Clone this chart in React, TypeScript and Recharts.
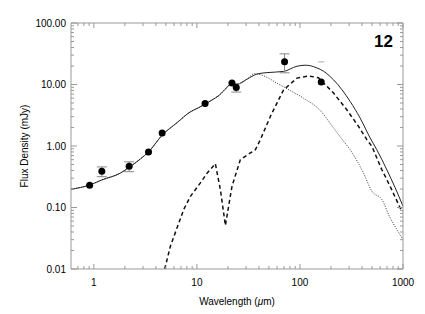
import React from 'react';
import { ComposedChart, Line, Scatter, XAxis, YAxis, ErrorBar } from 'recharts';

// total model (solid)
const totalWave = [0.6, 0.91, 1.19, 1.82, 2.2, 2.84, 3.39, 4.6, 6.43, 8.65, 10.4, 12, 14, 16.3, 19.6, 21.9, 24.5, 30.6, 38.3, 47.9, 69.3, 93.5, 112, 126, 146, 157, 212, 307, 384, 480, 557, 697, 839, 1000];
const totalFlux = [0.198, 0.232, 0.28, 0.365, 0.45, 0.62, 0.8, 1.5, 2.4, 3.6, 4.2, 4.8, 5.6, 6.6, 9.0, 10.5, 10.1, 12.2, 14.8, 15.6, 16.3, 19.8, 20.6, 20.2, 18.6, 17.7, 11.9, 5.3, 2.84, 1.35, 0.87, 0.41, 0.21, 0.105];

// stellar/first component (dotted), same as total below ~30um
const dotWave = [0.6, 0.91, 1.19, 1.82, 2.2, 2.84, 3.39, 4.6, 6.43, 8.65, 10.4, 12, 14, 16.3, 19.6, 21.9, 24.5, 30.6, 36, 46.1, 59.8, 80.5, 108, 157, 212, 255, 307, 413, 499, 623, 750, 871, 1000];
const dotFlux = [0.198, 0.232, 0.28, 0.365, 0.45, 0.62, 0.8, 1.5, 2.4, 3.6, 4.2, 4.8, 5.6, 6.6, 9.0, 10.5, 10.1, 12.2, 15.0, 13.5, 10.5, 8.0, 6.0, 3.8, 1.96, 1.3, 0.87, 0.365, 0.184, 0.135, 0.068, 0.044, 0.03];

// dust component (dashed)
const dashWave = [4.87, 5.53, 7.45, 8.65, 10.8, 12.6, 14.1, 15.1, 16.9, 18.9, 21.9, 26.4, 33, 36.9, 41.3, 51.6, 69.3, 93.5, 121, 151, 212, 285, 370, 446, 499, 623, 750, 937, 1000];
const dashFlux = [0.01, 0.0235, 0.093, 0.152, 0.251, 0.365, 0.45, 0.516, 0.195, 0.051, 0.221, 0.6, 0.77, 0.87, 1.27, 3.02, 8.18, 12.7, 13.8, 12.9, 7.25, 3.88, 2.08, 1.27, 0.986, 0.413, 0.221, 0.099, 0.085];

// photometry
const obsWave = [0.91, 1.195, 2.2, 3.39, 4.6, 12.0, 21.9, 24.1, 70.9, 160.8];
const obsFlux = [0.23, 0.387, 0.467, 0.8, 1.63, 4.91, 10.6, 8.93, 23.5, 11.0];
const obsErr = [0, 0.07, 0.085, 0, 0, 0, 0, 1.4, 8, 0];
const capWave = [160.8];
const capFlux = [23.3];

const xTicks = [0.7, 0.8, 0.9, 1, 2, 3, 4, 5, 6, 7, 8, 9, 10, 20, 30, 40, 50, 60, 70, 80, 90, 100, 200, 300, 400, 500, 600, 700, 800, 900, 1000];
const yTicks = [0.01, 0.02, 0.03, 0.04, 0.05, 0.06, 0.07, 0.08, 0.09, 0.1, 0.2, 0.3, 0.4, 0.5, 0.6, 0.7, 0.8, 0.9, 1, 2, 3, 4, 5, 6, 7, 8, 9, 10, 20, 30, 40, 50, 60, 70, 80, 90, 100];
const yLabels: Record<string, string> = { '0.01': '0.01', '0.1': '0.10', '1': '1.00', '10': '10.00', '100': '100.00' };

const zip = (xs: number[], ys: number[]) => xs.map((x, i) => ({ x, y: ys[i] }));
const totalData = zip(totalWave, totalFlux);
const dotData = zip(dotWave, dotFlux);
const dashData = zip(dashWave, dashFlux);
const obsData = obsWave.map((x, i) => ({ x, y: obsFlux[i], err: obsErr[i] }));
const capData = zip(capWave, capFlux);

const FONT = 'Liberation Sans, Arial, sans-serif';
const AX = '#999';

const isMajor = (v: number) => Math.abs(Math.log10(v) - Math.round(Math.log10(v))) < 1e-6;

const BottomTick = (p: any) => {
  const major = isMajor(p.payload.value);
  return (
    <g>
      <line x1={p.x} x2={p.x} y1={p.y} y2={p.y - (major ? 5 : 3)} stroke={AX} />
      {major && (
        <text x={p.x} y={p.y + 17} textAnchor="middle" fontSize={10} fontFamily={FONT} fill="#000">
          {String(p.payload.value)}
        </text>
      )}
    </g>
  );
};

const TopTick = (p: any) => {
  const major = isMajor(p.payload.value);
  return <line x1={p.x} x2={p.x} y1={p.y} y2={p.y + (major ? 5 : 3)} stroke={AX} />;
};

const LeftTick = (p: any) => {
  const major = isMajor(p.payload.value);
  return (
    <g>
      <line x1={p.x} x2={p.x + (major ? 6 : 3)} y1={p.y} y2={p.y} stroke={AX} />
      {major && (
        <text x={p.x - 5} y={p.y + 3.5} textAnchor="end" fontSize={10} fontFamily={FONT} fill="#000">
          {yLabels[String(p.payload.value)]}
        </text>
      )}
    </g>
  );
};

const RightTick = (p: any) => {
  const major = isMajor(p.payload.value);
  return <line x1={p.x} x2={p.x - (major ? 6 : 3)} y1={p.y} y2={p.y} stroke={AX} />;
};

const Dash = (p: any) => <line x1={p.cx - 3} x2={p.cx + 3} y1={p.cy} y2={p.cy} stroke="#aaa" />;

export default function App() {
  return (
    <div style={{ position: 'absolute', left: 0, top: 0, width: 425, height: 314, background: '#fff' }}>
      <ComposedChart width={425} height={314} margin={{ top: 13, right: 12, bottom: 15, left: 11 }}>
        <XAxis dataKey="x" type="number" scale="log" domain={[0.6, 1000]} allowDataOverflow
          ticks={xTicks} interval={0} height={30} tickSize={0} tickMargin={0} tickLine={false}
          axisLine={{ stroke: AX }} tick={<BottomTick />} />
        <XAxis xAxisId="top" orientation="top" dataKey="x" type="number" scale="log" domain={[0.6, 1000]} allowDataOverflow
          ticks={xTicks} interval={0} height={10} tickSize={0} tickMargin={0} tickLine={false}
          axisLine={{ stroke: AX }} tick={<TopTick />} />
        <YAxis type="number" scale="log" domain={[0.01, 100]} allowDataOverflow
          ticks={yTicks} interval={0} width={60} tickSize={0} tickMargin={0} tickLine={false}
          axisLine={{ stroke: AX }} tick={<LeftTick />} />
        <YAxis yAxisId="right" orientation="right" type="number" scale="log" domain={[0.01, 100]} allowDataOverflow
          ticks={yTicks} interval={0} width={10} tickSize={0} tickMargin={0} tickLine={false}
          axisLine={{ stroke: AX }} tick={<RightTick />} />
        <Line data={dotData} dataKey="y" type="monotone" stroke="#333" strokeWidth={1} strokeDasharray="1 1.5" dot={false} isAnimationActive={false} />
        <Line data={totalData} dataKey="y" type="monotone" stroke="#222" strokeWidth={1} dot={false} isAnimationActive={false} />
        <Line data={dashData} dataKey="y" type="linear" stroke="#111" strokeWidth={1.5} strokeDasharray="4 3" dot={false} isAnimationActive={false} />
        <Scatter data={obsData} dataKey="y" fill="#000" shape={(p: any) => <circle cx={p.cx} cy={p.cy} r={3.5} fill="#000" />} isAnimationActive={false}>
          <ErrorBar dataKey="err" direction="y" width={5} stroke="#888" strokeWidth={1} />
        </Scatter>
        <Scatter data={capData} dataKey="y" shape={<Dash />} isAnimationActive={false} />
      </ComposedChart>
      <svg width={425} height={314} style={{ position: 'absolute', left: 0, top: 0, pointerEvents: 'none' }}>
        <text x={393} y={47} textAnchor="end" fontSize={17} fontWeight="bold" fontFamily={FONT} fill="#000">12</text>
        <text x={237} y={304.5} textAnchor="middle" fontSize={10} fontFamily={FONT} fill="#000">
          Wavelength (<tspan fontStyle="italic">μ</tspan>m)
        </text>
        <text x={27.5} y={146} textAnchor="middle" fontSize={10} fontFamily={FONT} fill="#000" transform="rotate(-90 27.5 146)">
          Flux Density (mJy)
        </text>
      </svg>
    </div>
  );
}
